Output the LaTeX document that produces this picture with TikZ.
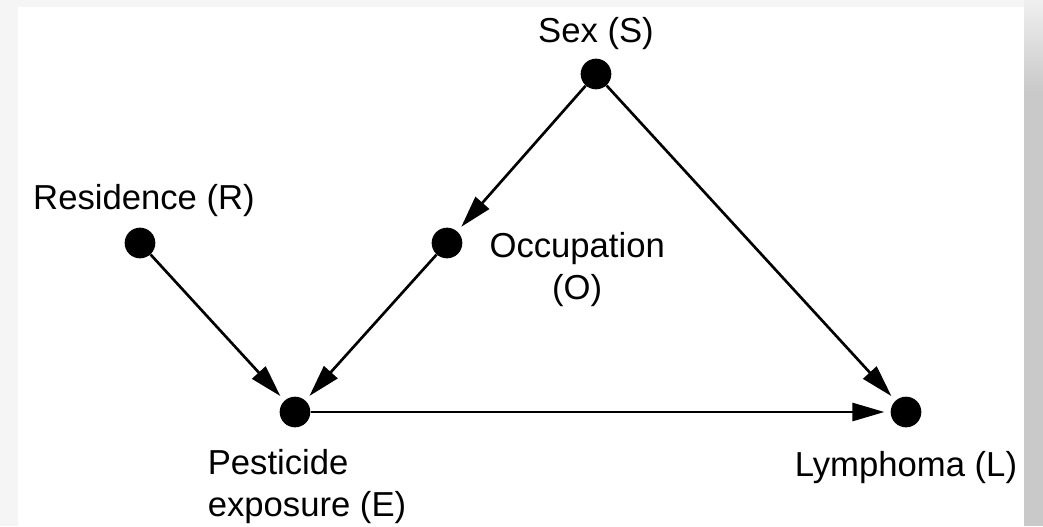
\documentclass[tikz,border=0pt]{standalone}
\usepackage{fontspec}
\setmainfont{Liberation Sans}
\usetikzlibrary{positioning,arrows.meta}

\begin{document}
\begin{tikzpicture}[x=0.75pt,y=-0.75pt,
  dot/.style={circle,fill=black,inner sep=0pt,minimum size=23pt},
  lbl/.style={inner sep=0pt,font=\fontsize{26}{31.5}\selectfont},
  arr/.style={line width=2pt,-{Triangle[length=24pt,width=13.5pt]},shorten >=4.5pt}]
\useasboundingbox (0,0) rectangle (1043,526);
\fill[gray!8] (0,0) rectangle (1043,526);
\fill[white] (18,7) rectangle (1024,526);
\shade[top color=gray!12,bottom color=gray!42] (1024,0) rectangle (1043,90);
\fill[gray!42] (1024,90) rectangle (1043,526);

\node[dot] (s) at (596,74) {};
\node[dot] (r) at (140,243) {};
\node[dot] (o) at (447,243) {};
\node[dot] (e) at (295,412) {};
\node[dot] (l) at (906,412) {};

\node[lbl,above=6pt of s] (sl) {Sex (S)};
\node[lbl,above=8pt of r,xshift=3pt] (rl) {Residence (R)};
\node[lbl,align=center,right=20pt of o,yshift=-20pt] (ol) {Occupation\\(O)};
\node[lbl,align=left,below=16pt of e,xshift=9pt] (el) {Pesticide\\exposure (E)};
\node[lbl,below=18pt of l] (ll) {Lymphoma (L)};

\draw[arr] (s) -- (o);
\draw[arr] (s) -- (l);
\draw[arr] (r) -- (e);
\draw[arr] (o) -- (e);
\draw[arr] (e) -- (l);
\end{tikzpicture}
\end{document}
